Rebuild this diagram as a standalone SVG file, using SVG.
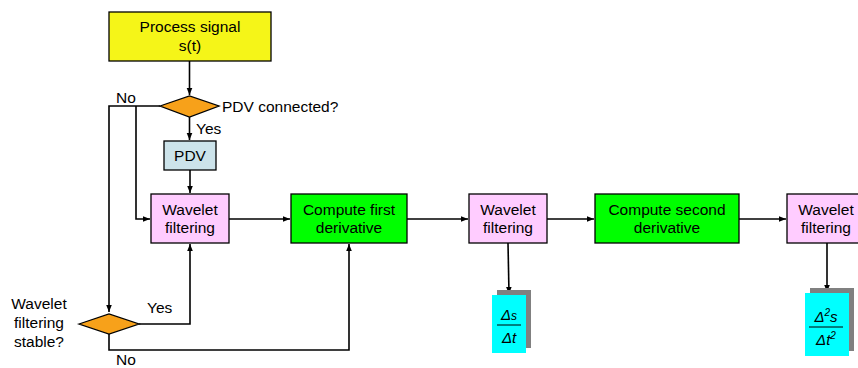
<svg xmlns="http://www.w3.org/2000/svg" width="858" height="368" viewBox="0 0 858 368">
<style>
text{font-family:"Liberation Sans",Arial,sans-serif;font-size:15.5px;fill:#000}
.c{text-anchor:middle}
.box{stroke:#000;stroke-width:1.3}
.ln{fill:none;stroke:#000;stroke-width:1.6}
.m{font-family:"Liberation Sans",Arial,sans-serif;font-style:italic;font-size:15px}
</style>
<defs>
<marker id="ah" viewBox="0 0 10 10" refX="10" refY="5" markerWidth="7" markerHeight="7" markerUnits="userSpaceOnUse" orient="auto">
<path d="M0,1 L10,5 L0,9 z" fill="#000"/>
</marker>
</defs>
<rect width="858" height="368" fill="#fff"/>
<g id="connectors">
<path class="ln" d="M189.5,61 V95" marker-end="url(#ah)"/>
<path class="ln" d="M189.5,117 V140" marker-end="url(#ah)"/>
<path class="ln" d="M190,170 V193" marker-end="url(#ah)"/>
<path class="ln" d="M160,106 H109 V312" marker-end="url(#ah)"/>
<path class="ln" d="M136,106 V219 H150" marker-end="url(#ah)"/>
<path class="ln" d="M229,219 H290" marker-end="url(#ah)"/>
<path class="ln" d="M407,219 H468" marker-end="url(#ah)"/>
<path class="ln" d="M547,219 H594" marker-end="url(#ah)"/>
<path class="ln" d="M739,219 H786" marker-end="url(#ah)"/>
<path class="ln" d="M139,324 H190 V244" marker-end="url(#ah)"/>
<path class="ln" d="M109,334 V350 H349 V244" marker-end="url(#ah)"/>
<path class="ln" d="M508,243 L509,294" marker-end="url(#ah)"/>
<path class="ln" d="M827,243 V292" marker-end="url(#ah)"/>
<text x="116" y="103">No</text>
<text x="196" y="134">Yes</text>
<text x="147" y="313">Yes</text>
<text x="116" y="365">No</text>
</g>
<g id="process">
<rect class="box" x="109" y="12" width="162" height="49" fill="#f5f518"/>
<text class="c" x="190" y="32">Process signal</text>
<text class="c" x="190" y="51">s(t)</text>
</g>
<g id="pdv-connected">
<polygon class="box" points="160,106 189.5,96 219,106 189.5,117" fill="#f7a11a"/>
<text x="222" y="112">PDV connected?</text>
</g>
<g id="pdv">
<rect class="box" x="164" y="141" width="52" height="29" fill="#cce3ea"/>
<text class="c" x="190" y="161">PDV</text>
</g>
<g id="wavelet1">
<rect class="box" x="151" y="194" width="78" height="49" fill="#ffccff"/>
<text class="c" x="190" y="215">Wavelet</text>
<text class="c" x="190" y="233">filtering</text>
</g>
<g id="deriv1">
<rect class="box" x="291" y="194" width="116" height="49" fill="#00ff00"/>
<text class="c" x="349" y="215">Compute first</text>
<text class="c" x="349" y="233">derivative</text>
</g>
<g id="wavelet2">
<rect class="box" x="469" y="194" width="78" height="49" fill="#ffccff"/>
<text class="c" x="508" y="215">Wavelet</text>
<text class="c" x="508" y="233">filtering</text>
</g>
<g id="deriv2">
<rect class="box" x="595" y="194" width="144" height="49" fill="#00ff00"/>
<text class="c" x="667" y="215">Compute second</text>
<text class="c" x="667" y="233">derivative</text>
</g>
<g id="wavelet3">
<rect class="box" x="787" y="194" width="78" height="49" fill="#ffccff"/>
<text class="c" x="826" y="215">Wavelet</text>
<text class="c" x="826" y="233">filtering</text>
</g>
<g id="stable">
<polygon class="box" points="79,324 109,314 139,324 109,334" fill="#f7a11a"/>
<text class="c" x="39" y="309">Wavelet</text>
<text class="c" x="39" y="328">filtering</text>
<text class="c" x="39" y="347">stable?</text>
</g>
<g id="ds">
<rect x="497" y="290" width="34" height="58" fill="#808080"/>
<rect x="492" y="295" width="34" height="58" fill="#00ffff"/>
<text class="c m" x="509" y="320">Δ<tspan font-size="12">s</tspan></text>
<line x1="497" y1="325" x2="521" y2="325" stroke="#000" stroke-width="1"/>
<text class="c m" x="509" y="343">Δt</text>
</g>
<g id="d2s">
<rect x="810" y="288" width="44" height="63" fill="#808080"/>
<rect x="805" y="293" width="44" height="63" fill="#00ffff"/>
<text class="c m" x="826" y="322" font-size="17">Δ<tspan font-size="10" dy="-6">2</tspan><tspan dy="6">s</tspan></text>
<line x1="809" y1="327" x2="843" y2="327" stroke="#000" stroke-width="1"/>
<text class="c m" x="826" y="345" font-size="17">Δt<tspan font-size="10" dy="-6">2</tspan></text>
</g>
</svg>
